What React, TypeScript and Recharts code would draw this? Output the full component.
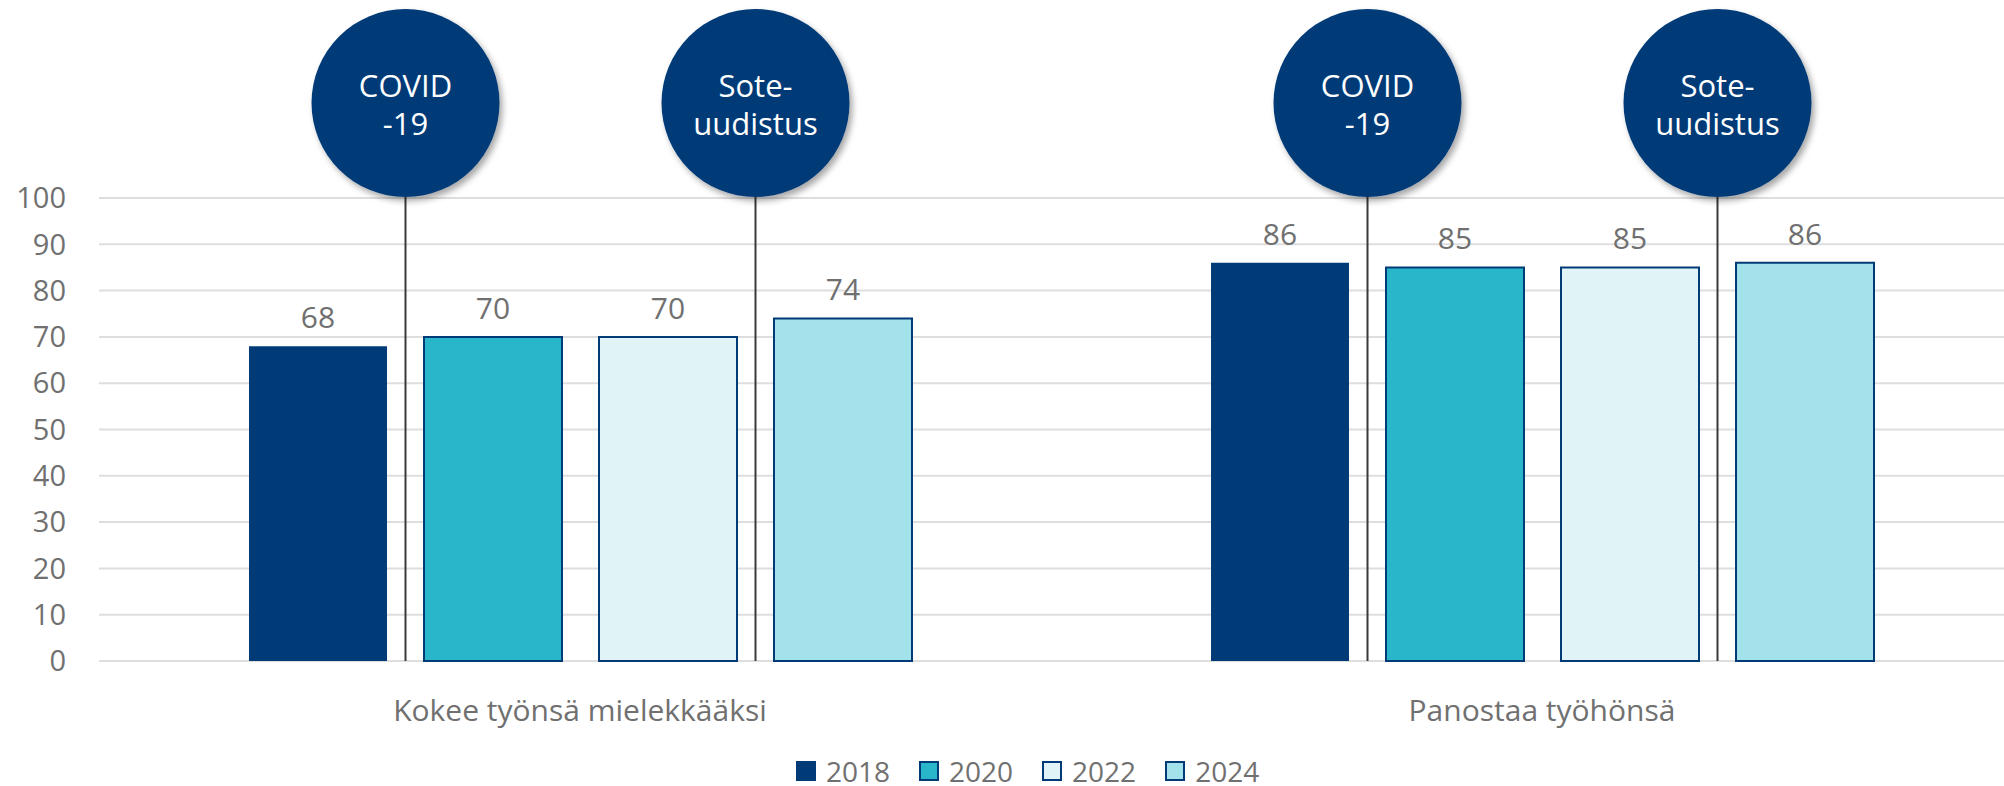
import React from "react";
import {
  BarChart,
  Bar,
  XAxis,
  YAxis,
  CartesianGrid,
  LabelList,
  Legend,
  Rectangle,
} from "recharts";

const categories = ["Kokee työnsä mielekkääksi", "Panostaa työhönsä"];
const years = ["2018", "2020", "2022", "2024"];
const values2018 = [68, 86];
const values2020 = [70, 85];
const values2022 = [70, 85];
const values2024 = [74, 86];
const yTicks = [0, 10, 20, 30, 40, 50, 60, 70, 80, 90, 100];
const covidLabel = ["COVID", "-19"];
const soteLabel = ["Sote-", "uudistus"];

const data = categories.map((name, i) => ({
  name,
  y2018: values2018[i],
  y2020: values2020[i],
  y2022: values2022[i],
  y2024: values2024[i],
}));

const NAVY = "#003b78";
const TEXT = "#707070";
const fills: Record<string, string> = {
  "2018": NAVY,
  "2020": "#29b6ca",
  "2022": "#e0f4f8",
  "2024": "#a3e2eb",
};
const BAR_SIZE = 138;
const BAR_GAP = 37;
const FONT = "'Open Sans', 'Noto Sans', sans-serif";

// bar shape that also draws the event marker (line + circle) in the gap right of the bar
function markerShape(lines: string[], id: string) {
  return (props: any) => {
    const { x, y, width, height, fill, stroke, strokeWidth, background } = props;
    const mx = x + width + BAR_GAP / 2;
    const top = background ? background.y : 198;
    const bottom = background ? background.y + background.height : 661;
    const cy = top - 95;
    return (
      <g>
        <defs>
          <filter id={id} x="-30%" y="-30%" width="160%" height="160%">
            <feDropShadow dx="3" dy="4" stdDeviation="3" floodColor="#000" floodOpacity="0.35" />
          </filter>
        </defs>
        <Rectangle x={x} y={y} width={width} height={height} fill={fill} stroke={stroke} strokeWidth={strokeWidth} />
        <line x1={mx} x2={mx} y1={cy} y2={bottom} stroke="#3a3a3a" strokeWidth={2} />
        <circle cx={mx} cy={cy} r={94} fill={NAVY} filter={`url(#${id})`} />
        <text x={mx} y={cy - 6} textAnchor="middle" fill="#fff" fontSize={31} fontFamily={FONT}>
          {lines[0]}
        </text>
        <text x={mx} y={cy + 32} textAnchor="middle" fill="#fff" fontSize={31} fontFamily={FONT}>
          {lines[1]}
        </text>
      </g>
    );
  };
}

const LegendContent = () => (
  <div
    style={{
      height: 45,
      boxSizing: "border-box",
      paddingTop: 14,
      paddingLeft: 796,
      display: "flex",
      alignItems: "center",
      fontFamily: FONT,
    }}
  >
    {years.map((yr, i) => (
      <div key={yr} style={{ display: "flex", alignItems: "center", height: 22, marginRight: 29 }}>
        <span
          style={{
            width: i === 0 ? 20 : 16,
            height: i === 0 ? 20 : 16,
            background: fills[yr],
            border: i === 0 ? "none" : `2px solid ${NAVY}`,
            marginRight: 10,
            display: "inline-block",
          }}
        />
        <span style={{ fontSize: 28, color: TEXT, lineHeight: "22px" }}>{yr}</span>
      </div>
    ))}
  </div>
);

export default function App() {
  return (
    <div
      style={{
        position: "absolute",
        left: 0,
        top: 0,
        width: 2004,
        height: 786,
        overflow: "hidden",
        background: "#fff",
        fontFamily: FONT,
      }}
    >
      <BarChart
        width={2030}
        height={786}
        data={data}
        margin={{ top: 198, right: 7, left: 0, bottom: 0 }}
        barSize={BAR_SIZE}
        barGap={BAR_GAP}
      >
        <CartesianGrid vertical={false} stroke="#dedede" strokeWidth={2} />
        <XAxis
          dataKey="name"
          axisLine={false}
          tickLine={false}
          tickSize={0}
          tickMargin={39}
          height={80}
          interval={0}
          tick={{ fill: TEXT, fontSize: 30 }}
        />
        <YAxis
          domain={[0, 100]}
          ticks={yTicks}
          axisLine={false}
          tickLine={false}
          tickSize={0}
          tickMargin={33}
          width={99}
          tick={{ fill: TEXT, fontSize: 29 }}
        />
        <Legend verticalAlign="bottom" height={45} content={<LegendContent />} wrapperStyle={{ left: 0, width: 2004 }} />
        <Bar dataKey="y2018" name="2018" fill={fills["2018"]} isAnimationActive={false} shape={markerShape(covidLabel, "shadowCovid")}>
          <LabelList dataKey="y2018" position="top" offset={18} fill={TEXT} fontSize={30} />
        </Bar>
        <Bar dataKey="y2020" name="2020" fill={fills["2020"]} stroke={NAVY} strokeWidth={2} isAnimationActive={false}>
          <LabelList dataKey="y2020" position="top" offset={18} fill={TEXT} fontSize={30} />
        </Bar>
        <Bar
          dataKey="y2022"
          name="2022"
          fill={fills["2022"]}
          stroke={NAVY}
          strokeWidth={2}
          isAnimationActive={false}
          shape={markerShape(soteLabel, "shadowSote")}
        >
          <LabelList dataKey="y2022" position="top" offset={18} fill={TEXT} fontSize={30} />
        </Bar>
        <Bar dataKey="y2024" name="2024" fill={fills["2024"]} stroke={NAVY} strokeWidth={2} isAnimationActive={false}>
          <LabelList dataKey="y2024" position="top" offset={18} fill={TEXT} fontSize={30} />
        </Bar>
      </BarChart>
    </div>
  );
}
